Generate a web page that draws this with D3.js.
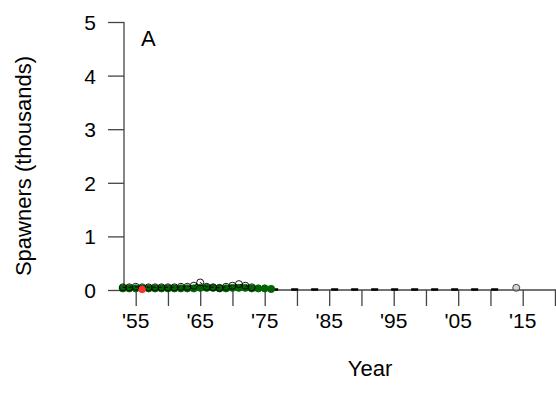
<!DOCTYPE html>
<html>
<head>
<meta charset="UTF-8">
<script src="https://d3js.org/d3.v7.min.js"></script>
<style>
  body { margin: 0; background: #fff; }
  text { font-family: "Liberation Sans", Arial, sans-serif; fill: #000; }
</style>
</head>
<body>
<svg width="556" height="410"></svg>
<script>
// observed spawners (open circles), thousands
var obsYears = [1953, 1954, 1955, 1956, 1957, 1958, 1959, 1960, 1961, 1962, 1963, 1964, 1965, 1966, 1967, 1968, 1969, 1970, 1971, 1972, 1973];
var obsValues = [0.05, 0.05, 0.06, 0.05, 0.05, 0.05, 0.05, 0.05, 0.05, 0.06, 0.06, 0.08, 0.14, 0.06, 0.05, 0.04, 0.06, 0.08, 0.11, 0.08, 0.05];
// green series
var greenYears = [1953, 1954, 1955, 1956, 1957, 1958, 1959, 1960, 1961, 1962, 1963, 1964, 1965, 1966, 1967, 1968, 1969, 1970, 1971, 1972, 1973, 1974, 1975, 1976];
var greenValues = [0.03, 0.03, 0.03, 0.03, 0.03, 0.03, 0.03, 0.03, 0.03, 0.03, 0.03, 0.03, 0.04, 0.04, 0.04, 0.03, 0.03, 0.04, 0.04, 0.04, 0.03, 0.03, 0.03, 0.02];
// red point
var redYear = 1956, redValue = 0.01;
// later years, near zero
var lateYears = [1976, 1980, 1985, 1990, 1995, 2000, 2005, 2010, 2013];
var lateValues = [0.01, 0.01, 0.01, 0.01, 0.01, 0.01, 0.01, 0.01, 0.01];
var lastYear = 2014, lastValue = 0.04;

var yTicks = [0, 1, 2, 3, 4, 5];
var xTicks = [1955, 1960, 1965, 1970, 1975, 1980, 1985, 1990, 1995, 2000, 2005, 2010, 2015, 2020];
var xLabels = [1955, 1965, 1975, 1985, 1995, 2005, 2015];

var svg = d3.select("svg");
var axisCol = "#444";

var x = d3.scaleLinear().domain([1955, 2015]).range([135.7, 522.7]);
var y = d3.scaleLinear().domain([0, 5]).range([290, 22]);
var x0 = 124, x1 = 560;

// y axis
var ya = svg.append("g").attr("transform", "translate(" + x0 + ",0)")
    .call(d3.axisLeft(y).tickValues(yTicks).tickSize(16).tickPadding(12).tickFormat(d3.format("d")));
ya.select(".domain").remove();
ya.selectAll("line").attr("stroke", axisCol).attr("stroke-width", 1.3);
ya.selectAll("text").attr("font-size", "21px").attr("font-family", "Liberation Sans, Arial").attr("dy", "0.36em");
svg.append("line").attr("x1", x0).attr("x2", x0).attr("y1", y(5)).attr("y2", y(0))
    .attr("stroke", axisCol).attr("stroke-width", 1.3);

// x axis
var xa = svg.append("g").attr("transform", "translate(0," + y(0) + ")")
    .call(d3.axisBottom(x).tickValues(xTicks).tickSize(16).tickFormat(""));
xa.select(".domain").remove();
xa.selectAll("line").attr("stroke", axisCol).attr("stroke-width", 1.3);
svg.append("line").attr("x1", x0).attr("x2", x1).attr("y1", y(0)).attr("y2", y(0))
    .attr("stroke", axisCol).attr("stroke-width", 1.3);
svg.selectAll(".xlab").data(xLabels).enter().append("text")
    .attr("x", function(d) { return x(d); })
    .attr("y", 328)
    .attr("text-anchor", "middle")
    .attr("font-size", "21px")
    .text(function(d) { return "'" + String(d).slice(2); });

// titles
svg.append("text").attr("x", 370).attr("y", 376).attr("text-anchor", "middle")
    .attr("font-size", "22px").text("Year");
svg.append("text").attr("transform", "translate(31,166) rotate(-90)")
    .attr("text-anchor", "middle").attr("font-size", "22px").text("Spawners (thousands)");
svg.append("text").attr("x", 141).attr("y", 46).attr("font-size", "22px").text("A");

// late near-zero dashed line
var line = d3.line().x(function(d) { return x(d[0]); }).y(function(d) { return y(d[1]); });
svg.append("path").datum(d3.zip(lateYears, lateValues)).attr("d", line)
    .attr("fill", "none").attr("stroke", "#000").attr("stroke-width", 2.5)
    .attr("stroke-dasharray", "7,13");

// green points
svg.selectAll(".gp").data(d3.zip(greenYears, greenValues)).enter().append("circle")
    .attr("cx", function(d) { return x(d[0]); })
    .attr("cy", function(d) { return y(d[1]); })
    .attr("r", 3.6)
    .attr("fill", "#006400").attr("stroke", "#006400").attr("stroke-width", 0.8);

// observed dashed line + open circles
svg.append("path").datum(d3.zip(obsYears, obsValues)).attr("d", line)
    .attr("fill", "none").attr("stroke", "#000").attr("stroke-width", 1)
    .attr("stroke-dasharray", "3,3");
svg.selectAll(".op").data(d3.zip(obsYears, obsValues)).enter().append("circle")
    .attr("cx", function(d) { return x(d[0]); })
    .attr("cy", function(d) { return y(d[1]); })
    .attr("r", 3.5)
    .attr("fill", "none").attr("stroke", "#000").attr("stroke-width", 0.9);

// red point
svg.append("circle").attr("cx", x(redYear)).attr("cy", y(redValue)).attr("r", 3.3)
    .attr("fill", "#ff3030").attr("stroke", "#ff3030");

// last observation
svg.append("circle").attr("cx", x(lastYear)).attr("cy", y(lastValue)).attr("r", 3.5)
    .attr("fill", "#bbb").attr("fill-opacity", 0.6).attr("stroke", "#333").attr("stroke-width", 0.9);
</script>
</body>
</html>
